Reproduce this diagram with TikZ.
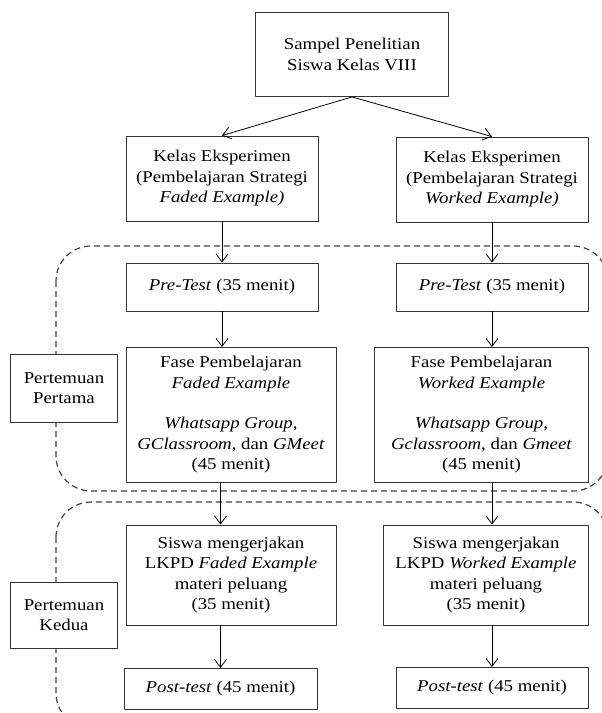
\documentclass[tikz,border=0pt]{standalone}
\usepackage{fontspec}
\setmainfont{Liberation Serif}[FakeStretch=1.14]
\usetikzlibrary{arrows.meta}
\begin{document}
\begin{tikzpicture}[x=1pt, y=-1pt, font=\fontsize{16.5}{20.5}\selectfont, line join=round, >={Straight Barb[length=8pt, width=12pt]},
	kotak/.style={draw=black!80, line width=0.9pt, fill=white, align=center, inner sep=2pt},
	sesi/.style={draw=black!75, line width=1.2pt, dash pattern=on 6pt off 4pt, rounded corners=35}]
			\useasboundingbox (0,0) rectangle (602,713);
			% daerah pertemuan
			\draw[sesi] (56,246) rectangle (608,491);
			\draw[sesi] (56,502) rectangle (608,728);
			% kotak alur
			\node[kotak, minimum width=193, minimum height=84] (sampel) at (352,54.5) {Sampel Penelitian\\Siswa Kelas VIII};
			\node[kotak, minimum width=192, minimum height=85] (kelasA) at (222,178.5) {Kelas Eksperimen\\(Pembelajaran Strategi\\\textit{Faded Example)}};
			\node[kotak, minimum width=192, minimum height=85] (kelasB) at (492,179.5) {Kelas Eksperimen\\(Pembelajaran Strategi\\\textit{Worked Example)}};
			\node[kotak, minimum width=192, minimum height=48] (preA) at (222,287) {\textit{Pre-Test} (35 menit)};
			\node[kotak, minimum width=192, minimum height=48] (preB) at (492,287) {\textit{Pre-Test} (35 menit)};
			\node[kotak, minimum width=210, minimum height=135] (faseA) at (231,415) {Fase Pembelajaran\\\textit{Faded Example}\\[20pt]\textit{Whatsapp Group},\\\textit{GClassroom}, dan \textit{GMeet}\\(45 menit)};
			\node[kotak, minimum width=214, minimum height=135] (faseB) at (481.5,415) {Fase Pembelajaran\\\textit{Worked Example}\\[20pt]\textit{Whatsapp Group},\\\textit{Gclassroom}, dan \textit{Gmeet}\\(45 menit)};
			\node[kotak, minimum width=210, minimum height=100] (lkpdA) at (231,575) {Siswa mengerjakan\\LKPD \textit{Faded Example}\\materi peluang\\(35 menit)};
			\node[kotak, minimum width=205, minimum height=100] (lkpdB) at (486,575) {Siswa mengerjakan\\LKPD \textit{Worked Example}\\materi peluang\\(35 menit)};
			\node[kotak, minimum width=193, minimum height=41] (postA) at (220.5,689) {\textit{Post-test} (45 menit)};
			\node[kotak, minimum width=192, minimum height=41] (postB) at (492,688) {\textit{Post-test} (45 menit)};
			\node[kotak, minimum width=107, minimum height=68] (pert1) at (64,388) {Pertemuan\\Pertama};
			\node[kotak, minimum width=107, minimum height=66] (pert2) at (64,615) {Pertemuan\\Kedua};
			% panah
			\draw[->, line width=0.8pt] (sampel.south) -- (kelasA.north);
			\draw[->, line width=0.8pt] (sampel.south) -- (kelasB.north);
			\foreach \k in {A,B}{
			\draw[->, line width=0.8pt] (kelas\k.south) -- (pre\k.north);
			\draw[->, line width=0.8pt] (pre\k.south) -- (pre\k.south |- fase\k.north);
			\draw[->, line width=0.8pt] (fase\k.south -| post\k) -- (post\k |- lkpd\k.north);
			\draw[->, line width=0.8pt] (lkpd\k.south -| post\k) -- (post\k.north);
			}
		\end{tikzpicture}
\end{document}
